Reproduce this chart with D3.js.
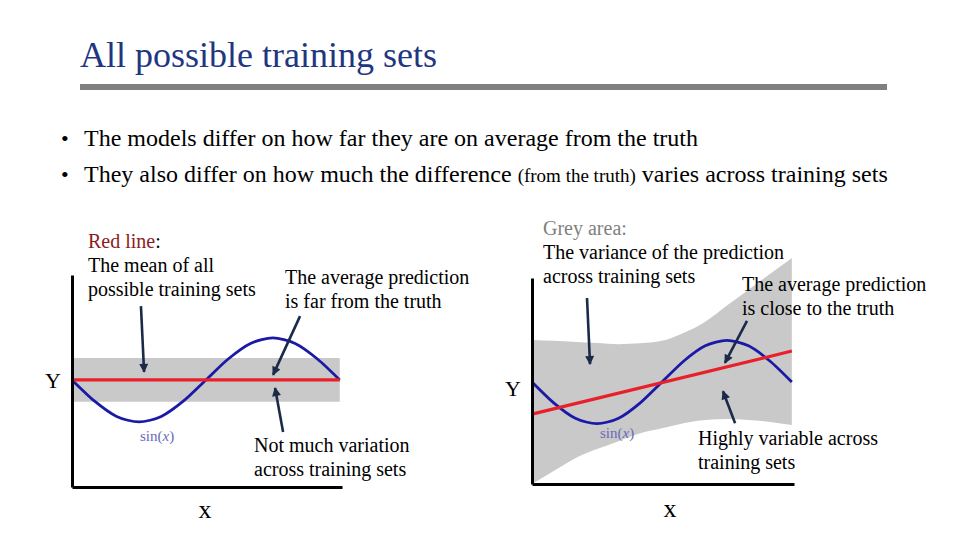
<!DOCTYPE html>
<html>
<head>
  <meta charset="utf-8">
  <title>All possible training sets</title>
  <script src="https://cdn.jsdelivr.net/npm/d3@7"></script>
  <style>
    body { margin: 0; background: #fff; }
    svg text { font-family: "Liberation Serif", "Times New Roman", serif; }
    .axis path { stroke: #000; stroke-width: 3; }
  </style>
</head>
<body>
<script>
  // ---- data ----
  // sample positions along x (same for both panels)
  var xs = [0, 1, 2, 3, 4, 5, 6, 7, 8, 9, 10, 11, 12];
  // the truth curve, sin(x), sampled at the points above
  var truth = [0, -0.5, -0.87, -1, -0.87, -0.5, 0, 0.5, 0.87, 1, 0.87, 0.5, 0];

  // left panel: constant model
  var leftMean = [0, 0];          // at x = 0 and x = 12
  var leftBand = [-0.52, 0.52];   // grey band, lower / upper

  // right panel: linear model
  var rightMean = [-0.77, 0.745]; // at x = 0 and x = 12
  var rightUpper = [1.01, 0.99, 0.96, 0.94, 0.91, 0.93, 0.99, 1.18, 1.45, 1.84, 2.22, 2.60, 2.98];
  var rightLower = [-2.45, -2.14, -1.83, -1.61, -1.42, -1.23, -1.11, -0.99, -0.91, -0.89, -0.91, -0.96, -1.03];

  // arrows: [x0, y0, x1, y1] in each panel's data units
  var leftArrows = [[3.09, 1.76, 3.23, 0.19], [10.22, 1.52, 9.01, 0.12], [9.46, -1.24, 9.1, -0.19]];
  var rightArrows = [[2.54, 2.02, 2.68, 0.43], [9.93, 1.47, 8.91, 0.46], [9.38, -0.99, 8.82, -0.22]];

  var bullets = [
    [{ t: "The models differ on how far they are on average from the truth" }],
    [{ t: "They also differ on how much the difference " }, { t: "(from the truth)", small: true }, { t: " varies across training sets" }]
  ];

  // ---- page ----
  var W = 960, H = 540;
  var serif = "Liberation Serif";
  var svg = d3.select("body").append("svg").attr("width", W).attr("height", H);

  svg.append("defs").append("marker")
    .attr("id", "head")
    .attr("viewBox", "0 0 10 10")
    .attr("refX", 9).attr("refY", 5)
    .attr("markerWidth", 10).attr("markerHeight", 9)
    .attr("markerUnits", "userSpaceOnUse")
    .attr("orient", "auto")
    .append("path").attr("d", "M0,0 L10,5 L0,10 z").attr("fill", "#1c2a4a");

  // title + rule
  svg.append("text").attr("x", 80).attr("y", 67)
    .attr("font-family", serif).attr("font-size", 36).attr("fill", "#1f3680")
    .text("All possible training sets");
  svg.append("rect").attr("x", 80).attr("y", 84).attr("width", 807).attr("height", 6).attr("fill", "#808080");

  // bullets
  bullets.forEach(function (parts, i) {
    var by = 146 + i * 36;
    svg.append("text").attr("x", 61).attr("y", by)
      .attr("font-family", serif).attr("font-size", 22).text("\u2022");
    var t = svg.append("text").attr("x", 84).attr("y", by)
      .attr("font-family", serif).attr("font-size", 24).attr("fill", "#000");
    parts.forEach(function (p) {
      t.append("tspan").attr("font-size", p.small ? 19 : 24).text(p.t);
    });
  });

  var line = d3.line().curve(d3.curveCardinal.tension(0.2));

  function panel(cfg) {
    var x = d3.scaleLinear().domain([0, 12.1]).range(cfg.xr);
    var y = d3.scaleLinear().domain(cfg.yd).range(cfg.yr);
    var g = svg.append("g");

    // grey band
    var area = d3.area()
      .x(function (d) { return x(d.x); })
      .y0(function (d) { return y(d.lo); })
      .y1(function (d) { return y(d.hi); })
      .curve(cfg.bandCurve);
    g.append("path").datum(cfg.band).attr("d", area).attr("fill", "#c9c9c9");

    // truth
    g.append("path")
      .datum(xs.map(function (v, i) { return [x(v), y(truth[i])]; }))
      .attr("d", line).attr("fill", "none").attr("stroke", "#1a1aa6").attr("stroke-width", 2.8);

    // mean prediction
    g.append("line")
      .attr("x1", x(0)).attr("y1", y(cfg.mean[0]))
      .attr("x2", x(12)).attr("y2", y(cfg.mean[1]))
      .attr("stroke", "#e8202a").attr("stroke-width", 3.2);

    // axes (no ticks)
    g.append("g").attr("class", "axis")
      .attr("transform", "translate(0," + cfg.yr[0] + ")")
      .call(d3.axisBottom(x).tickValues([]).tickSizeOuter(0));
    g.append("g").attr("class", "axis")
      .attr("transform", "translate(" + cfg.xr[0] + ",0)")
      .call(d3.axisLeft(y).tickValues([]).tickSizeOuter(0));

    // arrows
    cfg.arrows.forEach(function (a) {
      g.append("line")
        .attr("x1", x(a[0])).attr("y1", y(a[1]))
        .attr("x2", x(a[2])).attr("y2", y(a[3]))
        .attr("stroke", "#1c2a4a").attr("stroke-width", 2.6)
        .attr("marker-end", "url(#head)");
    });

    // labels
    var s = g.append("text").attr("x", cfg.sin[0]).attr("y", cfg.sin[1])
      .attr("font-family", serif).attr("font-size", 15).attr("fill", "#6a6ab8");
    s.append("tspan").text("sin(");
    s.append("tspan").attr("font-style", "italic").text("x");
    s.append("tspan").text(")");
    g.append("text").attr("x", cfg.ylab[0]).attr("y", cfg.ylab[1])
      .attr("font-family", serif).attr("font-size", 22).attr("text-anchor", "middle").text("Y");
    g.append("text").attr("x", cfg.xlab[0]).attr("y", cfg.xlab[1])
      .attr("font-family", serif).attr("font-size", 26).attr("text-anchor", "middle").text("x");
  }

  panel({
    xr: [72, 342], yd: [-2.55, 2.5], yr: [487, 275],
    band: xs.map(function (v) { return { x: v, lo: leftBand[0], hi: leftBand[1] }; }),
    bandCurve: d3.curveLinear,
    mean: leftMean, arrows: leftArrows,
    sin: [140, 441], ylab: [53, 388], xlab: [205, 518]
  });

  panel({
    xr: [532, 794], yd: [-2.45, 2.5], yr: [484, 278],
    band: xs.map(function (v, i) { return { x: v, lo: rightLower[i], hi: rightUpper[i] }; }),
    bandCurve: d3.curveMonotoneX,
    mean: rightMean, arrows: rightArrows,
    sin: [600, 438], ylab: [513, 396], xlab: [670, 517]
  });

  // annotation texts
  var notes = [
    { x: 88, y: 248, lines: [[{ t: "Red line", c: "#8c1c1c" }, { t: ":" }], [{ t: "The mean of all" }], [{ t: "possible training sets" }]] },
    { x: 285, y: 284, lines: [[{ t: "The average prediction" }], [{ t: "is far from the truth" }]] },
    { x: 254, y: 452, lines: [[{ t: "Not much variation" }], [{ t: "across training sets" }]] },
    { x: 543, y: 235, lines: [[{ t: "Grey area", c: "#7f7f7f" }, { t: ":", c: "#7f7f7f" }], [{ t: "The variance of the prediction" }], [{ t: "across training sets" }]] },
    { x: 742, y: 291, lines: [[{ t: "The average prediction" }], [{ t: "is close to the truth" }]] },
    { x: 698, y: 445, lines: [[{ t: "Highly variable across" }], [{ t: "training sets" }]] }
  ];
  notes.forEach(function (n) {
    n.lines.forEach(function (ln, i) {
      var t = svg.append("text").attr("x", n.x).attr("y", n.y + i * 24)
        .attr("font-family", serif).attr("font-size", 20);
      ln.forEach(function (p) { t.append("tspan").attr("fill", p.c || "#000").text(p.t); });
    });
  });
</script>
</body>
</html>
